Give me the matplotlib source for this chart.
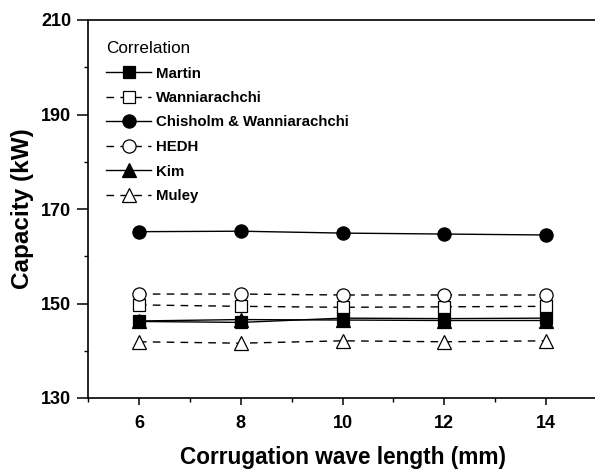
import matplotlib
matplotlib.use("Agg")
import matplotlib.pyplot as plt

plt.rcParams['font.family'] = ['Liberation Sans', 'DejaVu Sans']

wave_length = [6, 8, 10, 12, 14]
martin = [146.2, 146.0, 146.9, 146.8, 146.9]
wanniarachchi = [149.7, 149.4, 149.2, 149.3, 149.4]
chisholm = [165.2, 165.3, 164.9, 164.7, 164.5]
hedh = [152.0, 152.0, 151.8, 151.8, 151.8]
kim = [146.3, 146.6, 146.5, 146.4, 146.4]
muley = [141.9, 141.6, 142.1, 141.9, 142.1]

labels = ["Martin", "Wanniarachchi", "Chisholm & Wanniarachchi", "HEDH", "Kim", "Muley"]
y_major = [130, 150, 170, 190, 210]
y_minor = [140, 160, 180, 200]
x_major = [6, 8, 10, 12, 14]
x_minor = [5, 7, 9, 11, 13, 15]

fig = plt.figure(figsize=(5.95, 4.74), dpi=100)
ax = fig.add_axes([88 / 595, 1 - 398 / 474, (597 - 88) / 595, (398 - 20) / 474])

dash = (0, (5.5, 4.5))
series = [
    (martin, 's', 'black', '-', 8.5),
    (wanniarachchi, 's', 'white', dash, 8.5),
    (chisholm, 'o', 'black', '-', 9.5),
    (hedh, 'o', 'white', dash, 9.5),
    (kim, '^', 'black', '-', 10),
    (muley, '^', 'white', dash, 10),
]
for (vals, mk, fc, ls, ms), lab in zip(series, labels):
    ax.plot(wave_length, vals, marker=mk, markerfacecolor=fc, markeredgecolor='black',
            markeredgewidth=0.9, color='black', linestyle=ls, linewidth=1.0,
            markersize=ms, label=lab)

ax.set_xlim(5, 15)
ax.set_ylim(130, 210)
ax.set_xticks(x_major)
ax.set_xticks(x_minor, minor=True)
ax.set_yticks(y_major)
ax.set_yticks(y_minor, minor=True)
ax.tick_params(which='major', direction='out', width=1.1, labelsize=13)
ax.tick_params(axis='x', which='major', length=5, pad=7)
ax.tick_params(axis='y', which='major', length=8, pad=4)
ax.tick_params(which='minor', direction='out', length=3, width=1.0)
for lbl in ax.get_xticklabels() + ax.get_yticklabels():
    lbl.set_fontweight('bold')
for sp in ax.spines.values():
    sp.set_linewidth(1.2)

ax.set_xlabel("Corrugation wave length (mm)", fontsize=16.3, fontweight='bold', labelpad=10)
ax.set_ylabel("Capacity (kW)", fontsize=17.5, fontweight='bold', labelpad=5)

leg = ax.legend(loc='upper left', bbox_to_anchor=(106 / 595, 1 - 41 / 474),
                bbox_transform=fig.transFigure, frameon=False, title="Correlation",
                prop={'size': 10.8, 'weight': 'bold'}, title_fontsize=12.3,
                handlelength=3.0, handletextpad=0.35, labelspacing=0.7,
                borderpad=0, borderaxespad=0, alignment='left')

fig.savefig("out.png", dpi=100)
